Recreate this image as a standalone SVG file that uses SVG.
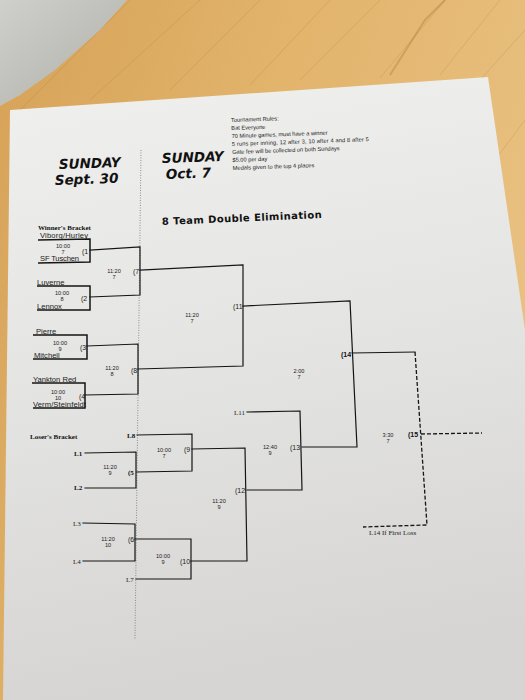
<svg xmlns="http://www.w3.org/2000/svg" width="525" height="700" viewBox="0 0 525 700">
<defs>
<linearGradient id="wood" x1="0" y1="0" x2="1" y2="0.4">
<stop offset="0" stop-color="#d6a258"/>
<stop offset="0.5" stop-color="#e2b46c"/>
<stop offset="1" stop-color="#e9c080"/>
</linearGradient>
<linearGradient id="wall" x1="0" y1="0" x2="1" y2="1">
<stop offset="0" stop-color="#cfcfcb"/>
<stop offset="0.7" stop-color="#b9b9b4"/>
<stop offset="1" stop-color="#8f8d87"/>
</linearGradient>
<linearGradient id="paper" x1="0" y1="0" x2="0.15" y2="1">
<stop offset="0" stop-color="#f0f0ee"/>
<stop offset="0.5" stop-color="#e4e4e2"/>
<stop offset="1" stop-color="#d6d5d3"/>
</linearGradient>
<style>
.ln{fill:none;stroke:#151515;stroke-width:1.2;stroke-linecap:square}
.tl{fill:none;stroke:#151515;stroke-width:1.5}
.ds{fill:none;stroke:#151515;stroke-width:1.3;stroke-dasharray:4 2}
.team{font-family:"Liberation Sans",Arial,sans-serif;font-size:7.6px;fill:#1a1a1a}
.tm{font-family:"Liberation Sans",Arial,sans-serif;font-size:5.6px;fill:#222;text-anchor:middle}
.num{font-family:"Liberation Sans",Arial,sans-serif;font-size:7px;fill:#222}
.numb{font-family:"Liberation Sans",Arial,sans-serif;font-size:7px;font-weight:bold;fill:#111}
.lz{font-family:"Liberation Serif","Times New Roman",serif;font-size:7px;fill:#222}
.lzb{font-family:"Liberation Serif","Times New Roman",serif;font-size:7px;font-weight:bold;fill:#111}
.hd{font-family:"DejaVu Sans",Verdana,sans-serif;font-weight:bold;font-style:italic;font-size:13.5px;fill:#111}
.rule{font-family:"Liberation Sans",Arial,sans-serif;font-size:5.7px;fill:#1a1a1a}
</style>
</defs>
<rect width="525" height="700" fill="url(#wood)"/>
<g opacity="0.15" stroke="#8a5a20" stroke-width="1" fill="none">
<path d="M130,0 L20,110"/><path d="M200,0 L90,100"/><path d="M260,0 L170,90"/><path d="M330,0 L250,85"/><path d="M380,0 L300,80"/><path d="M445,0 L380,78"/><path d="M500,0 L440,75"/><path d="M525,30 L480,80"/><path d="M525,120 L495,160"/>
</g>
<path d="M445,0 L425,20 L390,75" stroke="#9a6a2a" stroke-width="2" opacity="0.3" fill="none"/>
<polygon points="0,0 127,0 100,30 55,70 20,95 0,106" fill="url(#wall)"/>
<polygon points="10,110 488,77 525,330 525,700 3,700" fill="url(#paper)"/>
<line x1="141" y1="150" x2="135" y2="640" stroke="#777" stroke-width="0.8" stroke-dasharray="1 1.5"/>

<g id="header">
<text class="hd" x="59" y="169" transform="rotate(-2 59 169)">SUNDAY</text>
<text class="hd" x="55" y="185" transform="rotate(-2 55 185)">Sept. 30</text>
<text class="hd" x="162" y="163" transform="rotate(-2 162 163)">SUNDAY</text>
<text class="hd" x="166" y="179" transform="rotate(-2 166 179)">Oct. 7</text>
<text x="162" y="225" transform="rotate(-2.5 162 225)" font-family="DejaVu Sans,Verdana,sans-serif" font-weight="bold" font-size="10" textLength="160" fill="#111">8 Team Double Elimination</text>
</g>
<g id="rules" transform="rotate(-2 231 120)">
<text class="rule" x="231" y="122">Tournament Rules:</text>
<text class="rule" x="231" y="130">Bat Everyone</text>
<text class="rule" x="231" y="138">70 Minute games, must have a winner</text>
<text class="rule" x="231" y="146" textLength="137">5 runs per inning, 12 after 3, 10 after 4 and 8 after 5</text>
<text class="rule" x="231" y="154">Gate fee will be collected on both Sundays</text>
<text class="rule" x="231" y="162">$5.00 per day</text>
<text class="rule" x="231" y="170">Medals given to the top 4 places</text>
</g>

<g id="connectors">
<path class="tl" d="M38,240 L90,239 L90,262 L38,263"/>
<path class="tl" d="M37,286 L90,286 L90,310 L37,310"/>
<path class="tl" d="M33,335 L87,335 L87,359 L33,359"/>
<path class="tl" d="M32,383 L85,383 L85,408 L33,408"/>
<path class="ln" d="M90,250 L140,247 L140,295 L90,297"/>
<path class="ln" d="M87,346 L138,344 L138,394 L85,395"/>
<path class="ln" d="M140,270 L243,265 L243,366 L138,369"/>
<path class="ln" d="M243,306 L350,301 L357,447 L302,447"/>
<path class="ln" d="M352,353 L415,352"/>
<path class="ds" d="M415,352 L427,525 L363,527"/>
<path class="ds" d="M421,434 L482,433"/>
<path class="ln" d="M85,453 L136,452 L136,488 L85,488"/>
<path class="ln" d="M137,435 L192,434 L192,471 L137,472"/>
<path class="ln" d="M83,523 L135,524 L135,561 L83,561"/>
<path class="ln" d="M135,539 L191,539 L191,579 L136,579"/>
<path class="ln" d="M192,449 L245,448 L247,561 L191,561"/>
<path class="ln" d="M247,490 L302,490 L300,411 L247,412"/>
</g>

<g id="teams">
<text class="team" x="40" y="238" textLength="48">Viborg/Hurley</text>
<text class="team" x="40" y="261" textLength="39">SF Tuschen</text>
<text class="team" x="37" y="285">Luverne</text>
<text class="team" x="37" y="309">Lennox</text>
<text class="team" x="36" y="334">Pierre</text>
<text class="team" x="34" y="358">Mitchell</text>
<text class="team" x="33" y="382">Yankton Red</text>
<text class="team" x="33" y="407" textLength="53">Verm/Steinfeldt</text>
<text class="lzb" x="38" y="230" font-size="6.3">Winner's Bracket</text>
<text class="lzb" x="30" y="439" font-size="6.8">Loser's Bracket</text>
</g>

<g id="m1"><text class="tm" x="63" y="248">10:00</text><text class="tm" x="63" y="254">7</text><text class="num" x="82" y="254">(1</text></g>
<g id="m2"><text class="tm" x="62" y="295">10:00</text><text class="tm" x="62" y="301">8</text><text class="num" x="81" y="301">(2</text></g>
<g id="m3"><text class="tm" x="60" y="345">10:00</text><text class="tm" x="60" y="351">9</text><text class="num" x="80" y="350">(3</text></g>
<g id="m4"><text class="tm" x="58" y="394">10:00</text><text class="tm" x="58" y="400">10</text><text class="num" x="79" y="399">(4</text></g>
<g id="m7"><text class="tm" x="114" y="273">11:20</text><text class="tm" x="114" y="279">7</text><text class="num" x="133" y="274">(7</text></g>
<g id="m8"><text class="tm" x="112" y="370">11:20</text><text class="tm" x="112" y="376">8</text><text class="num" x="131" y="373">(8</text></g>
<g id="m11"><text class="tm" x="192" y="317">11:20</text><text class="tm" x="192" y="323">7</text><text class="num" x="233" y="309">(11</text></g>
<g id="m14"><text class="tm" x="299" y="373">2:00</text><text class="tm" x="299" y="379">7</text><text class="numb" x="341" y="357">(14</text></g>
<g id="m15"><text class="tm" x="388" y="437">3:30</text><text class="tm" x="388" y="443">7</text><text class="numb" x="408" y="437">(15</text>
<text class="lz" x="369" y="535" font-size="6.2">L14 If First Loss</text></g>
<g id="m5"><text class="tm" x="110" y="469">11:20</text><text class="tm" x="110" y="475">9</text><text class="lzb" x="128" y="475">(5</text>
<text class="lzb" x="74" y="456">L1</text><text class="lzb" x="74" y="490">L2</text></g>
<g id="m6"><text class="tm" x="108" y="541">11:20</text><text class="tm" x="108" y="547">10</text><text class="num" x="128" y="542">(6</text>
<text class="lz" x="73" y="526">L3</text><text class="lz" x="73" y="564">L4</text></g>
<g id="m9"><text class="tm" x="164" y="452">10:00</text><text class="tm" x="164" y="458">7</text><text class="num" x="184" y="452">(9</text>
<text class="lzb" x="127" y="438">L8</text></g>
<g id="m10"><text class="tm" x="163" y="558">10:00</text><text class="tm" x="163" y="564">9</text><text class="num" x="180" y="564">(10</text>
<text class="lz" x="126" y="582">L7</text></g>
<g id="m12"><text class="tm" x="219" y="503">11:20</text><text class="tm" x="219" y="509">9</text><text class="num" x="235" y="493">(12</text></g>
<g id="m13"><text class="tm" x="270" y="449">12:40</text><text class="tm" x="270" y="455">9</text><text class="num" x="290" y="450">(13</text>
<text class="lz" x="234" y="415">L11</text></g>
</svg>
